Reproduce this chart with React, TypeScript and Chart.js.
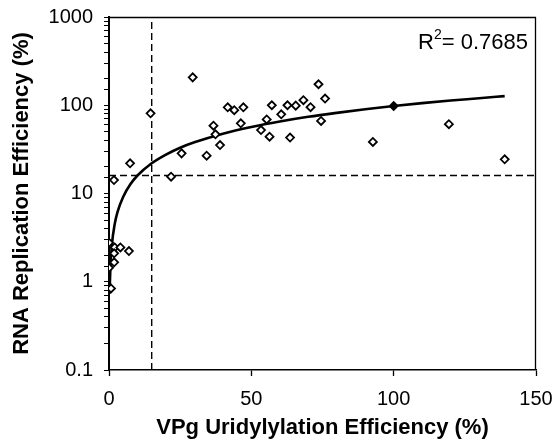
import React, { useEffect, useRef } from "react";
import { Chart, registerables } from "chart.js";

Chart.register(...registerables);

// VPg uridylation efficiency (%) of each mutant
const uridylation = [
  0, 2, 4, 7, 1.8, 1.8, 0, 0.7, 1.75, 7.4, 14.6, 21.8, 25.5, 29.4, 34.3, 36.7,
  37.4, 39, 41.7, 44, 47.2, 46.3, 53.4, 55.4, 56.4, 57.2, 60.5, 62.7, 63.6,
  65.6, 68.3, 70.8, 73.6, 75.9, 74.5, 100, 119.4, 92.7, 139,
];
// RNA replication efficiency (%) of each mutant
const replication = [
  2.77, 2.45, 2.45, 2.23, 2.1, 1.66, 1.44, 0.84, 14.2, 22, 81, 15.5, 28.5, 207,
  26.8, 58.6, 46.8, 35.4, 94.8, 88, 94.8, 62.4, 52.4, 69, 44, 100, 79, 100, 43,
  99, 114, 95, 173, 119, 66.4, 98, 61, 38.4, 24.4,
];
// fitted trend curve
const fitX = [0.2, 0.5, 1, 2, 3, 5, 7.5, 10, 15, 20, 25, 30, 40, 50, 60, 70, 80, 90, 100, 110, 120, 130, 139];
const fitY = [0.73, 1.5, 2.6, 4.5, 6.2, 9.2, 12.7, 16, 22, 27.6, 33, 38, 47.6, 56.7, 65.5, 74, 82, 90, 98, 105.6, 113, 120, 127];
// dashed cut-off lines
const cutoffX = 15;
const cutoffY = 16;
const xRange = [0, 150];
const yRange = [0.1, 1000];
const xTickStep = 50;
const r2Value = "0.7685";

const FONT = "'Liberation Sans', Arial, Helvetica, sans-serif";

const framePlugin = {
  id: "frameAndR2",
  afterDraw(chart: any) {
    const { ctx, chartArea } = chart;
    ctx.save();
    ctx.strokeStyle = "#000";
    ctx.lineWidth = 1.3;
    ctx.beginPath();
    ctx.moveTo(chartArea.left, chartArea.top + 0.5);
    ctx.lineTo(chartArea.right, chartArea.top + 0.5);
    ctx.moveTo(chartArea.right - 0.5, chartArea.top);
    ctx.lineTo(chartArea.right - 0.5, chartArea.bottom);
    ctx.stroke();

    // R² label
    const rightX = chartArea.right - 8;
    const baseY = chartArea.top + 32;
    ctx.fillStyle = "#000";
    ctx.textBaseline = "alphabetic";
    ctx.textAlign = "left";
    const big = `22px ${FONT}`;
    const small = `14px ${FONT}`;
    const rest = "= " + r2Value;
    ctx.font = big;
    const wR = ctx.measureText("R").width;
    const wRest = ctx.measureText(rest).width;
    ctx.font = small;
    const w2 = ctx.measureText("2").width;
    let x = rightX - (wR + w2 + wRest);
    ctx.font = big;
    ctx.fillText("R", x, baseY);
    x += wR;
    ctx.font = small;
    ctx.fillText("2", x, baseY - 10);
    x += w2;
    ctx.font = big;
    ctx.fillText(rest, x, baseY);
    ctx.restore();
  },
};

export default function App() {
  const canvasRef = useRef<HTMLCanvasElement | null>(null);

  useEffect(() => {
    if (!canvasRef.current) return;
    const points = uridylation.map((x, i) => ({ x, y: replication[i] }));
    const fit = fitX.map((x, i) => ({ x, y: fitY[i] }));

    const chart = new Chart(canvasRef.current, {
      type: "scatter",
      data: {
        datasets: [
          {
            label: "mutants",
            data: points,
            pointStyle: "rectRot",
            pointRadius: 4,
            pointBorderWidth: 1.8,
            borderColor: "#000",
            backgroundColor: (c: any) => (c.raw && c.raw.x === 100 ? "#000" : "#fff"),
            order: 0,
          },
          {
            label: "fit",
            type: "line",
            data: fit,
            borderColor: "#000",
            borderWidth: 2.6,
            pointRadius: 0,
            cubicInterpolationMode: "monotone",
            fill: false,
            order: 1,
          },
          {
            label: "vertical cutoff",
            type: "line",
            data: [
              { x: cutoffX, y: yRange[0] },
              { x: cutoffX, y: yRange[1] },
            ],
            borderColor: "#000",
            borderWidth: 1.4,
            borderDash: [7, 4],
            pointRadius: 0,
            fill: false,
            order: 2,
          },
          {
            label: "horizontal cutoff",
            type: "line",
            data: [
              { x: xRange[0], y: cutoffY },
              { x: xRange[1], y: cutoffY },
            ],
            borderColor: "#000",
            borderWidth: 1.4,
            borderDash: [7, 4],
            pointRadius: 0,
            fill: false,
            order: 2,
          },
        ],
      },
      options: {
        animation: false,
        responsive: false,
        devicePixelRatio: 1,
        layout: { padding: { top: 17, right: 18, left: 0, bottom: 0 } },
        plugins: { legend: { display: false }, tooltip: { enabled: false } },
        scales: {
          x: {
            type: "linear",
            min: xRange[0],
            max: xRange[1],
            ticks: {
              stepSize: xTickStep,
              color: "#000",
              font: { family: FONT, size: 20 },
              padding: 11,
              maxRotation: 0,
            },
            grid: { drawOnChartArea: false, tickLength: 6, tickColor: "#000", tickWidth: 1.3 },
            border: { color: "#000", width: 1.5 },
            title: {
              display: true,
              text: "VPg Uridylylation Efficiency (%)",
              color: "#000",
              font: { family: FONT, size: 22, weight: "bold" },
              padding: { top: 0, bottom: 3 },
            },
            afterFit: (s: any) => {
              s.height = 74;
              s.paddingLeft = 0;
              s.paddingRight = 0;
            },
          },
          y: {
            type: "logarithmic",
            min: yRange[0],
            max: yRange[1],
            ticks: {
              autoSkip: false,
              color: "#000",
              font: { family: FONT, size: 20 },
              padding: 11,
              callback: (v: any) => {
                const l = Math.log10(Number(v));
                if (Math.abs(l - Math.round(l)) < 1e-6) {
                  return String(Number(Number(v).toPrecision(1)));
                }
                return "";
              },
            },
            grid: { drawOnChartArea: false, tickLength: 5, tickColor: "#000", tickWidth: 1 },
            border: { color: "#000", width: 2 },
            title: {
              display: true,
              text: "RNA Replication Efficiency (%)",
              color: "#000",
              font: { family: FONT, size: 22, weight: "bold" },
              padding: { top: 9, bottom: 0 },
            },
            afterFit: (s: any) => {
              s.width = 109;
              s.paddingTop = 0;
              s.paddingBottom = 0;
            },
          },
        },
      },
      plugins: [framePlugin],
    } as any);

    return () => chart.destroy();
  }, []);

  return (
    <div style={{ position: "absolute", left: 0, top: 0, width: 554, height: 444, background: "#fff" }}>
      <canvas ref={canvasRef} width={554} height={444} style={{ width: 554, height: 444, display: "block" }} />
    </div>
  );
}
